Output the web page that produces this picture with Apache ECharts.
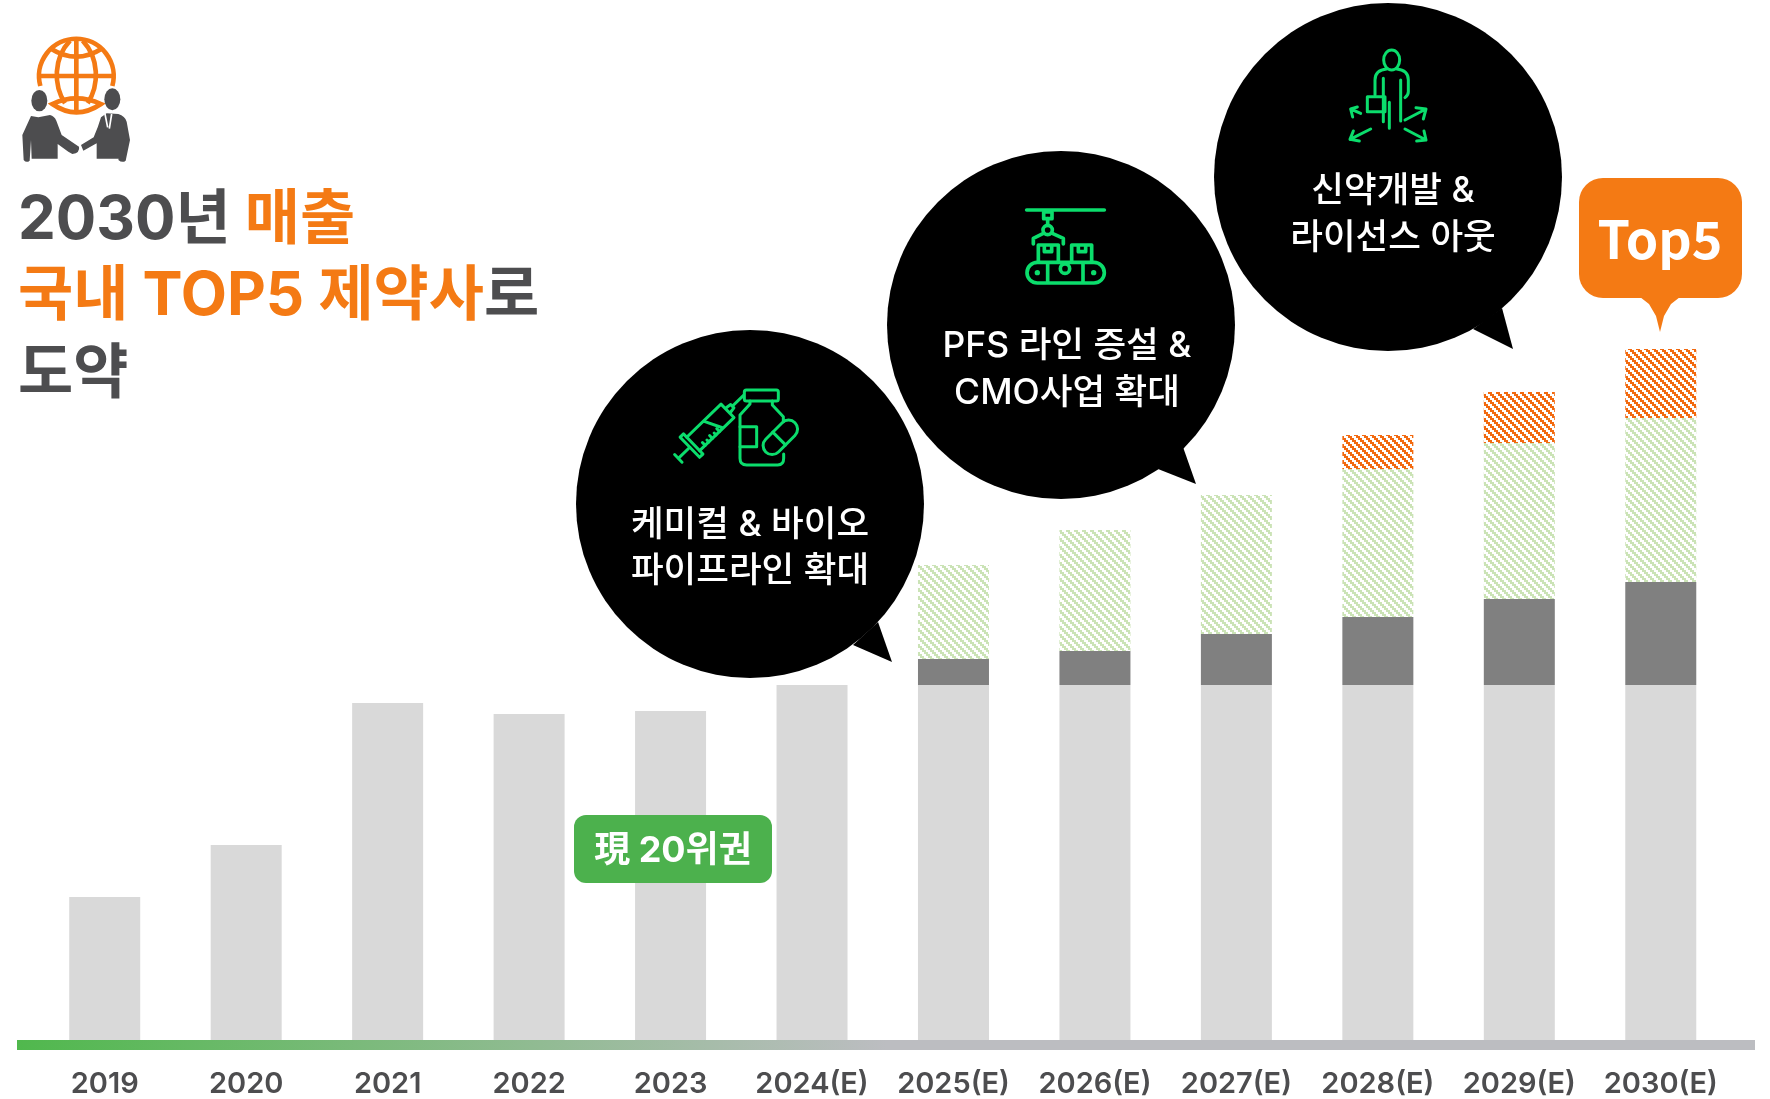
<!DOCTYPE html>
<html>
<head>
<meta charset="utf-8">
<title>2030 TOP5</title>
<script src="https://cdn.jsdelivr.net/npm/echarts@6/dist/echarts.min.js"></script>
<style>
html, body { margin: 0; padding: 0; background: #fff; }
#maindiv { width: 1770px; height: 1099px; }
</style>
</head>
<body>
<div id="maindiv"></div>
<script>
// categories and stacked segments (unit: arbitrary height)
var categories = ['2019', '2020', '2021', '2022', '2023', '2024(E)', '2025(E)', '2026(E)', '2027(E)', '2028(E)', '2029(E)', '2030(E)'];
var baseData = [143, 195, 337, 326, 329, 355, 355, 355, 355, 355, 355, 355];
var darkData = [null, null, null, null, null, null, 26, 34, 51, 68, 86, 103];
var greenData = [null, null, null, null, null, null, 94, 121, 139, 148, 156, 164];
var orangeData = [null, null, null, null, null, null, null, null, null, 34, 51, 69];

var FONT = 'Inter, "Noto Sans CJK KR", sans-serif';
var KFONT = '"Noto Sans CJK KR", sans-serif';
var ORANGE = '#F47A14';
var DARK = '#4D4D4F';
var NEON = '#0BDD6C';

// diagonal hatch used for the forecast segments
function hatch(color) {
    var c = document.createElement('canvas');
    c.width = 8;
    c.height = 8;
    var ctx = c.getContext('2d');
    ctx.fillStyle = '#fff';
    ctx.fillRect(0, 0, 8, 8);
    ctx.fillStyle = color;
    for (var y = 0; y < 8; y += 2) {
        for (var i = 0; i < 4; i++) {
            ctx.fillRect((y + i) % 8, y, 1, 2);
        }
    }
    return { image: c, repeat: 'repeat' };
}

function svgUrl(w, h, body) {
    var s = '<svg xmlns="http://www.w3.org/2000/svg" width="' + w * 3 + '" height="' + h * 3 + '" viewBox="0 0 ' + w * 3 + ' ' + h * 3 + '">' + body + '</svg>';
    return 'data:image/svg+xml;charset=utf-8,' + encodeURIComponent(s);
}

var iconGlobe = svgUrl(125, 140,
    '<g fill="none" stroke="' + ORANGE + '" stroke-width="14">' +
    '<path d="M76 168A112 112 0 1 1 292 168"/><path d="M108 56Q184 104 260 56"/><path d="M76 138H292"/>' +
    '<path d="M184 30V245"/><path d="M150 220C115 165 115 85 165 32"/><path d="M218 220C253 165 253 85 203 32"/>' +
    '<path d="M112 222Q184 188 258 222Q184 272 112 222Z"/></g>' +
    '<g fill="' + DARK + '"><ellipse cx="73" cy="212" rx="24" ry="32"/><ellipse cx="292" cy="208" rx="24" ry="33"/>' +
    '<path d="M22 315L48 258L70 262L105 255Q118 258 124 272L140 315L192 350Q196 368 172 372L160 365L128 342V386H50L48 330L44 392Q34 400 26 390Z"/>' +
    '<path d="M198 345L236 322Q250 290 258 262L275 250L310 252Q330 258 335 275L345 330L332 392Q322 400 310 390L325 325L320 386H245V340L205 362Z"/></g>' +
    '<path d="M270 252L278 292M290 252L283 296" fill="none" stroke="#fff" stroke-width="5"/>');

var iconDrug = svgUrl(140, 100,
    '<g fill="none" stroke="' + NEON + '" stroke-width="9" stroke-linecap="round" stroke-linejoin="round">' +
    '<rect x="238" y="30" width="102" height="33" rx="6"/>' +
    '<path d="M255 63V72L225 105V235Q225 255 245 255H338Q356 255 356 235V222"/><path d="M322 63V75L355 110V125"/>' +
    '<path d="M225 140H275V200H225"/>' +
    '<g transform="translate(346 172) rotate(-45)"><rect x="-62" y="-27" width="124" height="54" rx="27"/><path d="M-5 -27V27"/></g>' +
    '<g transform="translate(40 235) rotate(-44)"><path d="M0 -16V16M0 0H48"/><rect x="48" y="-42" width="14" height="84"/>' +
    '<path d="M62 -28H205V28H62M132 -28L160 28M205 -10L225 -7V7L205 10M225 0H272"/>' +
    '<path d="M85 28V16M100 28V20M115 28V16M130 28V20M145 28V16"/></g></g>');

var iconPlant = svgUrl(100, 90,
    '<g fill="none" stroke="' + NEON + '" stroke-width="11" stroke-linecap="round" stroke-linejoin="round">' +
    '<path d="M35 30H268"/><rect x="86" y="36" width="25" height="20"/><path d="M98 56V76"/><circle cx="98" cy="90" r="14"/>' +
    '<path d="M85 100L55 115V132M112 100L145 115V132"/>' +
    '<path d="M70 185V135H130V185M88 135V155H110V135M170 185V135H230V185M190 135V155H212V135"/>' +
    '<rect x="36" y="187" width="232" height="62" rx="31"/><path d="M98 190V246M204 190V246"/><circle cx="150" cy="206" r="14"/>' +
    '</g><circle cx="67" cy="218" r="8" fill="' + NEON + '"/><circle cx="236" cy="218" r="8" fill="' + NEON + '"/>');

var iconPerson = svgUrl(100, 105,
    '<g fill="none" stroke="' + NEON + '" stroke-width="9" stroke-linecap="round" stroke-linejoin="round">' +
    '<ellipse cx="155" cy="45" rx="24" ry="30"/><path d="M105 150V105Q105 75 140 72M170 72Q205 75 205 105V140Q205 150 195 158"/>' +
    '<path d="M130 100V230M182 105V228M148 172V250"/><rect x="82" y="155" width="53" height="45"/>' +
    '<path d="M62 205L32 192M32 192L52 186M32 192L38 216"/><path d="M195 225L258 192M258 192L228 188M258 192L250 222"/>' +
    '<path d="M92 252L30 283M30 283L40 258M30 283L58 288"/><path d="M195 252L258 285M258 285L230 288M258 285L252 258"/></g>');

function bubble(cx, cy, tail) {
    return [
        { type: 'circle', z: 20, shape: { cx: cx, cy: cy, r: 174 }, style: { fill: '#000' } },
        { type: 'polygon', z: 20, shape: { points: tail }, style: { fill: '#000' } }
    ];
}

function label(x, y, text) {
    return { type: 'text', z: 30, style: { x: x, y: y, text: text, fill: '#fff', font: '500 35.5px ' + FONT, textAlign: 'center', textVerticalAlign: 'middle' } };
}

function titleLine(y, text) {
    return {
        type: 'text', z: 30,
        style: {
            x: 18, y: y, text: text, textVerticalAlign: 'middle',
            rich: {
                d: { fill: DARK, font: '700 60px ' + FONT },
                o: { fill: ORANGE, font: '700 60px ' + FONT }
            }
        }
    };
}

var graphics = [
    { type: 'rect', z: 10, shape: { x: 17, y: 1040, width: 1738, height: 10 },
      style: { fill: { type: 'linear', x: 0, y: 0, x2: 1, y2: 0, colorStops: [{ offset: 0, color: '#50B84D' }, { offset: 0.5, color: '#BCBDC1' }, { offset: 1, color: '#BCBDC1' }] } } },
    { type: 'image', z: 30, style: { image: iconGlobe, x: 15, y: 30, width: 125, height: 140 } },
    titleLine(221, '{d|2030년 }{o|매출}'),
    titleLine(297, '{o|국내 TOP5 제약사}{d|로}'),
    titleLine(375, '{d|도약}'),
    { type: 'rect', z: 20, shape: { x: 574, y: 815, width: 198, height: 68, r: 12 }, style: { fill: '#4CB14D' } },
    { type: 'text', z: 30, style: { x: 673, y: 851, text: '現 20위권', fill: '#fff', font: '700 36px ' + FONT, textAlign: 'center', textVerticalAlign: 'middle' } },
    { type: 'rect', z: 20, shape: { x: 1579, y: 178, width: 163, height: 120, r: 24 }, style: { fill: ORANGE } },
    { type: 'polygon', z: 20, shape: { points: [[1640, 297], [1649, 304], [1656, 316], [1660, 332], [1664, 316], [1671, 304], [1680, 297]] }, style: { fill: ORANGE } },
    { type: 'text', z: 30, style: { x: 1660, y: 239, text: 'Top5', fill: '#fff', font: '700 52px ' + KFONT, textAlign: 'center', textVerticalAlign: 'middle' } },
    { type: 'image', z: 30, style: { image: iconDrug, x: 665, y: 380, width: 140, height: 100 } },
    { type: 'image', z: 30, style: { image: iconPlant, x: 1015, y: 200, width: 100, height: 90 } },
    { type: 'image', z: 30, style: { image: iconPerson, x: 1340, y: 45, width: 100, height: 105 } },
    label(750, 525, '케미컬 & 바이오'),
    label(750, 571, '파이프라인 확대'),
    label(1067, 346, 'PFS 라인 증설 &'),
    label(1067, 393, 'CMO사업 확대'),
    label(1393, 191, '신약개발 &'),
    label(1393, 238, '라이선스 아웃')
].concat(
    bubble(750, 504, [[878, 622], [892, 662], [853, 645]]),
    bubble(1061, 325, [[1183, 447], [1196, 484], [1158, 469]]),
    bubble(1388, 177, [[1502, 308], [1513, 349], [1473, 329]])
);

var maindata = echarts.init(document.getElementById('maindiv'), null, { renderer: 'canvas' });

function seg(name, data, color) {
    return { name: name, type: 'bar', stack: 'total', barWidth: 71, data: data, silent: true, itemStyle: { color: color } };
}

maindata.setOption({
    animation: false,
    backgroundColor: '#fff',
    grid: { left: 34, top: 0, width: 1697.5, height: 1040 },
    xAxis: {
        type: 'category',
        data: categories,
        axisLine: { show: false },
        axisTick: { show: false },
        axisLabel: { color: DARK, margin: 30, fontFamily: FONT, fontSize: 29, fontWeight: 600, interval: 0 }
    },
    yAxis: { type: 'value', min: 0, max: 1040, show: false },
    series: [
        seg('base', baseData, '#D9D9D9'),
        seg('dark', darkData, '#808080'),
        seg('green', greenData, hatch('#CBE3B6')),
        seg('orange', orangeData, hatch('#F26A10'))
    ],
    graphic: { elements: graphics }
});
</script>
</body>
</html>
